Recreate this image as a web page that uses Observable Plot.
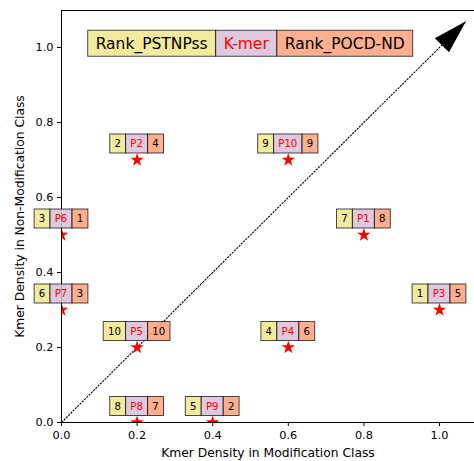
<!DOCTYPE html>
<html>
<head>
<meta charset="utf-8">
<script src="https://cdn.jsdelivr.net/npm/d3@7"></script>
<script src="https://cdn.jsdelivr.net/npm/@observablehq/plot@0.6"></script>
<style>
  html, body { margin: 0; padding: 0; background: #fff; }
</style>
</head>
<body>
<div id="chart"></div>
<script>
// K-mer densities and the rank each k-mer gets under the two encodings
const kmers          = ["P1", "P2", "P3", "P4", "P5", "P6", "P7", "P8", "P9", "P10"];
const densityMod     = [0.8, 0.2, 1.0, 0.6, 0.2, 0.0, 0.0, 0.2, 0.4, 0.6];
const densityNonMod  = [0.5, 0.7, 0.3, 0.2, 0.2, 0.5, 0.3, 0.0, 0.0, 0.7];
const rankPSTNPss    = [7, 2, 1, 4, 10, 3, 6, 8, 5, 9];
const rankPOCDND     = [8, 4, 5, 6, 10, 1, 3, 7, 2, 9];

const headerLabels = ["Rank_PSTNPss", "K-mer", "Rank_POCD-ND"];
const headerAt = {x: 0.49, y: 1.01};
const xTicks = [0, 0.2, 0.4, 0.6, 0.8, 1.0];
const yTicks = [0, 0.2, 0.4, 0.6, 0.8, 1.0];
const diagonalEnd = 1.07;
const xLabel = "Kmer Density in Modification Class";
const yLabel = "Kmer Density in Non-Modification Class";

const points = kmers.map((k, i) => ({
  kmer: k,
  x: densityMod[i],
  y: densityNonMod[i],
  left: String(rankPSTNPss[i]),
  right: String(rankPOCDND[i])
}));

const FONT = "DejaVu Sans";
const cellFill = ["#f0e68c", "#d8bfd8", "#ffa07a"];
const cellText = ["black", "red", "black"];

const measureCtx = document.createElement("canvas").getContext("2d");
function textWidth(s, size) {
  measureCtx.font = `${size}px "${FONT}"`;
  return measureCtx.measureText(s).width;
}

// Draws a row of three adjacent boxed labels, the middle one centred on
// each anchor's x position and lifted dy pixels from its y position.
function tripleLabels(rows, {fontSize, pad, height, dy}) {
  return (index, scales, values, dimensions, context) => {
    const doc = (context && context.document) || document;
    const g = d3.select(doc.createElementNS("http://www.w3.org/2000/svg", "g"));
    for (const r of rows) {
      const cx = scales.x(r.x);
      const cy = scales.y(r.y) + dy;
      const texts = [r.left, r.mid, r.right];
      const w = texts.map(t => textWidth(t, fontSize) + 2 * pad);
      const x0 = cx - w[1] / 2 - w[0];
      const starts = [x0, x0 + w[0], x0 + w[0] + w[1]];
      texts.forEach((t, j) => {
        g.append("rect")
          .attr("x", starts[j]).attr("y", cy - height / 2)
          .attr("width", w[j]).attr("height", height)
          .attr("fill", cellFill[j]).attr("fill-opacity", 0.85)
          .attr("stroke", "black").attr("stroke-opacity", 0.7)
          .attr("stroke-width", 1);
        g.append("text")
          .attr("x", starts[j] + w[j] / 2).attr("y", cy)
          .attr("dy", "0.35em")
          .attr("text-anchor", "middle")
          .attr("font-family", FONT)
          .attr("font-size", fontSize)
          .attr("fill", cellText[j])
          .text(t);
      });
    }
    return g.node();
  };
}

// Filled arrowhead whose tip sits on the anchor, pointing up and to the right
const arrowHead = {
  draw(ctx) {
    const L = 34, W = 20, s = Math.SQRT1_2;
    const bx = -L * s, by = L * s;
    ctx.moveTo(0, 0);
    ctx.lineTo(bx - (W / 2) * s, by - (W / 2) * s);
    ctx.lineTo(bx + (W / 2) * s, by + (W / 2) * s);
    ctx.closePath();
  }
};

const W = 474, H = 461;
const mL = 61, mR = 0, mT = 10, mB = 39;
const pxPerX = 378, pxPerY = 375;
const xMax = (W - mL - mR) / pxPerX;
const yMax = (H - mT - mB) / pxPerY;

const chart = Plot.plot({
  width: W,
  height: H,
  marginLeft: mL,
  marginRight: mR,
  marginTop: mT,
  marginBottom: mB,
  style: {fontFamily: FONT, fontSize: "11px", background: "white", color: "black", overflow: "visible"},
  x: {domain: [0, xMax]},
  y: {domain: [0, yMax]},
  marks: [
    Plot.link([{x1: 0, y1: 0, x2: diagonalEnd, y2: diagonalEnd}], {
      x1: "x1", y1: "y1", x2: "x2", y2: "y2",
      stroke: "black", strokeWidth: 1.1, strokeDasharray: "2.2,1"
    }),
    Plot.dot([{x: diagonalEnd, y: diagonalEnd}], {
      x: "x", y: "y", symbol: arrowHead, r: 5, fill: "black", stroke: "none"
    }),
    Plot.dot(points, {
      x: "x", y: "y", symbol: "star", r: 4.2, fill: "red", stroke: "none", clip: true
    }),
    Plot.ruleX([0], {stroke: "black", strokeWidth: 1}),
    Plot.ruleY([0], {stroke: "black", strokeWidth: 1}),
    Plot.ruleY([yMax], {stroke: "black", strokeWidth: 1}),
    Plot.axisX({ticks: xTicks, tickFormat: d3.format(".1f"), tickSize: 4, tickPadding: 4, fontSize: 11.3, label: null}),
    Plot.axisY({ticks: yTicks, tickFormat: d3.format(".1f"), tickSize: 4, tickPadding: 4, fontSize: 11.3, label: null}),
    tripleLabels(points.map(p => ({x: p.x, y: p.y, left: p.left, mid: p.kmer, right: p.right})),
      {fontSize: 10.2, pad: 4.7, height: 19, dy: -16}),
    tripleLabels([{x: headerAt.x, y: headerAt.y, left: headerLabels[0], mid: headerLabels[1], right: headerLabels[2]}],
      {fontSize: 15.5, pad: 8, height: 26, dy: 0}),
    Plot.text([xLabel], {
      frameAnchor: "bottom", textAnchor: "middle", lineAnchor: "middle",
      dy: 31, text: d => d, fontSize: 12.3, fill: "black"
    }),
    Plot.text([yLabel], {
      frameAnchor: "left", textAnchor: "middle", lineAnchor: "middle",
      dx: -41, rotate: -90, text: d => d, fontSize: 12.3, fill: "black"
    })
  ]
});

document.getElementById("chart").appendChild(chart);
</script>
</body>
</html>
